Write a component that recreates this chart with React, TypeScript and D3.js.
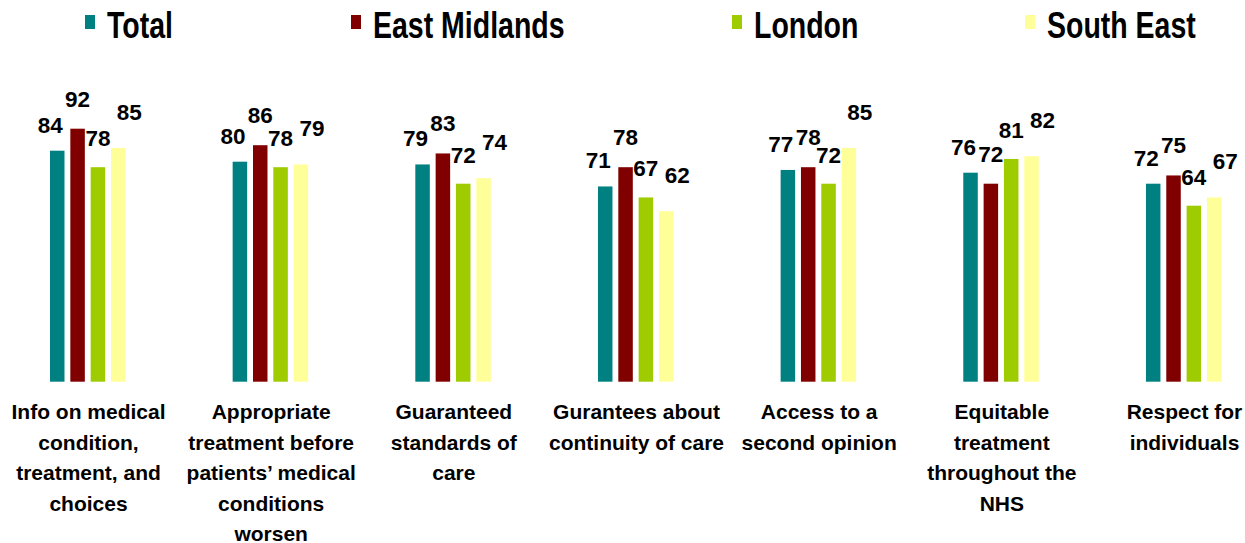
import * as d3 from 'd3';

const CATEGORIES = [
  'Info on medical condition, treatment, and choices',
  'Appropriate treatment before patients’ medical conditions worsen',
  'Guaranteed standards of care',
  'Gurantees about continuity of care',
  'Access to a second opinion',
  'Equitable treatment throughout the NHS',
  'Respect for individuals',
];

// how the category labels wrap under the axis
const CATEGORY_LINES = [
  ['Info on medical', 'condition,', 'treatment, and', 'choices'],
  ['Appropriate', 'treatment before', 'patients’ medical', 'conditions', 'worsen'],
  ['Guaranteed', 'standards of', 'care'],
  ['Gurantees about', 'continuity of care'],
  ['Access to a', 'second opinion'],
  ['Equitable', 'treatment', 'throughout the', 'NHS'],
  ['Respect for', 'individuals'],
];

const SERIES = ['Total', 'East Midlands', 'London', 'South East'];
const COLORS = ['#008080', '#800000', '#9ECC00', '#FFFF99'];

const TOTAL = [84, 80, 79, 71, 77, 76, 72];
const EAST_MIDLANDS = [92, 86, 83, 78, 78, 72, 75];
const LONDON = [78, 78, 72, 67, 72, 81, 64];
const SOUTH_EAST = [85, 79, 74, 62, 85, 82, 67];

const VALUES = [TOTAL, EAST_MIDLANDS, LONDON, SOUTH_EAST];

const W = 1245;
const H = 543;
const FONT = '"Liberation Sans", Arial, Helvetica, sans-serif';

// label nudges per series (the original labels were hand-placed)
const LABEL_DX = [-7, 0, 0, 11];
const LABEL_GAP = [18, 22, 21, 28];
const LEGEND_X = [107, 373, 754, 1047];

export default function App() {
  const x0 = d3.scaleBand<string>().domain(CATEGORIES).range([-3.8, 1274.8]).padding(0);
  const x1 = d3
    .scaleBand<string>()
    .domain(SERIES)
    .range([53.8, 129.3])
    .paddingInner(0.287)
    .paddingOuter(0);
  const y = d3.scaleLinear().domain([0, 100]).range([381.7, 106.7]);

  return (
    <div style={{ position: 'absolute', left: 0, top: 0 }}>
      <svg width={W} height={H} style={{ display: 'block', background: '#fff' }} fontFamily={FONT}>
        {/* Legend */}
        {SERIES.map((s, i) => (
          <g key={s}>
            <rect x={LEGEND_X[i] - 22} y={15} width={10} height={14} fill={COLORS[i]} />
            <text
              transform={`translate(${LEGEND_X[i]},38) scale(1,1.27)`}
              fontSize={28.5}
              fontWeight="bold"
              fill="#000"
            >
              {s}
            </text>
          </g>
        ))}

        {/* Bars */}
        {CATEGORIES.map((c, ci) => (
          <g key={c} transform={`translate(${x0(c)},0)`}>
            {SERIES.map((s, si) => {
              const v = VALUES[si][ci];
              return (
                <rect
                  key={s}
                  x={x1(s)}
                  y={y(v)}
                  width={x1.bandwidth()}
                  height={y(0) - y(v)}
                  fill={COLORS[si]}
                />
              );
            })}
            {SERIES.map((s, si) => {
              const v = VALUES[si][ci];
              return (
                <text
                  key={s + '-lbl'}
                  x={(x1(s) as number) + x1.bandwidth() / 2 + LABEL_DX[si]}
                  y={y(v) - LABEL_GAP[si]}
                  textAnchor="middle"
                  fontSize={22.5}
                  fontWeight="bold"
                  fill="#000"
                >
                  {v}
                </text>
              );
            })}
          </g>
        ))}

        {/* Category labels */}
        {CATEGORIES.map((c, ci) => (
          <text
            key={c + '-cat'}
            x={(x0(c) as number) + x0.bandwidth() / 2 + 1}
            y={419}
            textAnchor="middle"
            fontSize={21}
            fontWeight="bold"
            fill="#000"
          >
            {CATEGORY_LINES[ci].map((line, li) => (
              <tspan key={li} x={(x0(c) as number) + x0.bandwidth() / 2 + 1} dy={li === 0 ? 0 : 30.5}>
                {line}
              </tspan>
            ))}
          </text>
        ))}
      </svg>
    </div>
  );
}
